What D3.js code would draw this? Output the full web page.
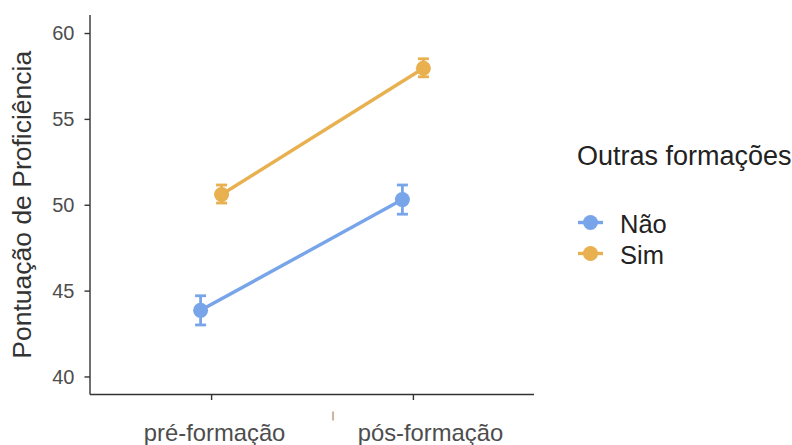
<!DOCTYPE html>
<html>
<head>
<meta charset="utf-8">
<script src="https://cdn.jsdelivr.net/npm/d3@7"></script>
<style>
  body { margin: 0; background: #fff; }
  text { font-family: "Liberation Sans", Arial, sans-serif; }
</style>
</head>
<body>
<svg id="chart" width="792" height="445"></svg>
<script>
// Timepoints and groups
const phases = ["pré-formação", "pós-formação"];
const groups = ["Não", "Sim"];
const groupColors = ["#78A5E9", "#E8B04E"];

// Mean proficiency score per group, one value per phase
const meanNao = [43.85, 50.3];
const meanSim = [50.6, 57.95];
// Error bar bounds
const lowNao = [43.0, 49.45];
const highNao = [44.7, 51.15];
const lowSim = [50.1, 57.45];
const highSim = [51.15, 58.5];

const yTicks = [40, 45, 50, 55, 60];

const series = [
  { group: groups[0], color: groupColors[0], mean: meanNao, low: lowNao, high: highNao },
  { group: groups[1], color: groupColors[1], mean: meanSim, low: lowSim, high: highSim }
];

const svg = d3.select("#chart");
const plotLeft = 90, plotRight = 534, plotTop = 15, plotBottom = 394.5;

const x = d3.scalePoint().domain(phases).range([plotLeft, plotRight]).padding(0.6);
const dodge = d3.scalePoint().domain(groups).range([-10.5, 10.5]);
const y = d3.scaleLinear().domain([38.95, 61.05]).range([plotBottom, plotTop]);

// Axes
const yAxis = svg.append("g").attr("transform", `translate(${plotLeft},0)`)
  .call(d3.axisLeft(y).tickValues(yTicks).tickSize(5.5).tickPadding(10));
yAxis.select(".domain").attr("d", `M0,${plotTop}V${plotBottom}`);
const xAxis = svg.append("g").attr("transform", `translate(0,${plotBottom})`)
  .call(d3.axisBottom(x).tickSize(5.5).tickPadding(24));
xAxis.select(".domain").attr("d", `M${plotLeft},0H${plotRight}`);

[yAxis, xAxis].forEach(a => {
  a.select(".domain").attr("stroke", "#333").attr("stroke-width", 1.4);
  a.selectAll(".tick line").attr("stroke", "#333").attr("stroke-width", 1.4);
  a.selectAll(".tick text").attr("fill", "#4d4d4d").attr("font-family", "Liberation Sans, Arial, sans-serif");
});
yAxis.selectAll(".tick text").attr("font-size", 20).attr("dy", "0.34em");
xAxis.selectAll(".tick text").attr("font-size", 23.8)
  .attr("dx", (d, i) => i === 1 ? 17 : 3);

// Small separator mark between the category labels
const midX = (x(phases[0]) + x(phases[1])) / 2 + 21;
svg.append("line")
  .attr("x1", midX).attr("x2", midX)
  .attr("y1", plotBottom + 17).attr("y2", plotBottom + 26)
  .attr("stroke", "#9a6a3a").attr("stroke-width", 1);

// Y axis title
svg.append("text")
  .attr("transform", `translate(31,${(plotTop + plotBottom) / 2}) rotate(-90)`)
  .attr("text-anchor", "middle")
  .attr("font-size", 26.5)
  .attr("fill", "#333")
  .text("Pontuação de Proficiência");

// Lines, error bars and points
const plot = svg.append("g");
series.forEach(s => {
  const px = i => x(phases[i]) + dodge(s.group);
  plot.append("path")
    .attr("d", d3.line()(phases.map((p, i) => [px(i), y(s.mean[i])])))
    .attr("fill", "none").attr("stroke", s.color).attr("stroke-width", 3.4);
  phases.forEach((p, i) => {
    const cx = px(i);
    const g = plot.append("g").attr("stroke", s.color).attr("stroke-width", 2.8);
    g.append("line").attr("x1", cx).attr("x2", cx).attr("y1", y(s.low[i])).attr("y2", y(s.high[i]));
    g.append("line").attr("x1", cx - 5.5).attr("x2", cx + 5.5).attr("y1", y(s.low[i])).attr("y2", y(s.low[i]));
    g.append("line").attr("x1", cx - 5.5).attr("x2", cx + 5.5).attr("y1", y(s.high[i])).attr("y2", y(s.high[i]));
    plot.append("circle").attr("cx", cx).attr("cy", y(s.mean[i])).attr("r", 7.5).attr("fill", s.color);
  });
});

// Legend
const legend = svg.append("g").attr("transform", "translate(576,0)");
legend.append("text").attr("x", 1).attr("y", 165).attr("font-size", 27).attr("fill", "#222")
  .text("Outras formações");
series.forEach((s, i) => {
  const cy = 222.5 + i * 31;
  legend.append("line").attr("x1", 2).attr("x2", 27).attr("y1", cy).attr("y2", cy)
    .attr("stroke", s.color).attr("stroke-width", 3.4);
  legend.append("circle").attr("cx", 14.5).attr("cy", cy).attr("r", 7.5).attr("fill", s.color);
  legend.append("text").attr("x", 44).attr("y", cy + 10).attr("font-size", 25.5).attr("fill", "#222")
    .text(s.group);
});
</script>
</body>
</html>
